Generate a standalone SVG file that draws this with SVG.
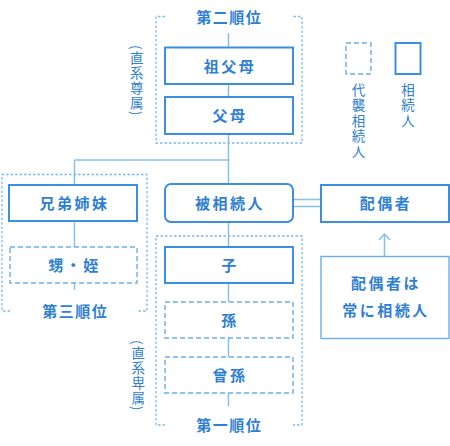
<svg xmlns="http://www.w3.org/2000/svg" width="450" height="446" viewBox="0 0 450 446">
<style>
text{font-family:"Noto Sans CJK JP","Noto Sans",sans-serif;fill:#2f80d2;}
.t{font-size:15px;font-weight:700;text-anchor:middle;letter-spacing:2.5px;}
.title{font-size:15px;font-weight:700;text-anchor:middle;letter-spacing:1.5px;}
.v{font-size:13.5px;font-weight:400;writing-mode:vertical-rl;letter-spacing:1.5px;}
.box{fill:#fff;stroke:#3a8fdf;stroke-width:2;}
.dbox{fill:#fff;stroke:#6aaeea;stroke-width:1.4;stroke-dasharray:5 3;}
.grp{fill:none;stroke:#7cb9ee;stroke-width:1.3;stroke-dasharray:2.5 2;}
.ln{fill:none;stroke:#86c0ef;stroke-width:1.5;}
</style>
<g id="groups">
<path class="grp" d="M165,16.5 H156 V143 H302 V16.5 H292"/>
<path class="grp" d="M10,311 H2 V174.5 H147 V311 H138"/>
<path class="grp" d="M165,425 H156 V236 H302 V425 H293"/>
<text class="title" x="229.2" y="22.5">第二順位</text>
<text class="title" x="75.2" y="316.5">第三順位</text>
<text class="title" x="229.2" y="430.5">第一順位</text>
<text class="v" x="136.7" y="45">(直系尊属)</text>
<text class="v" x="138.3" y="340">(直系卑属)</text>
</g>
<g id="connectors">
<path class="ln" d="M228.5,33 V47 M228.5,84 V97 M228.5,134 V184 M74.5,160 H228.5 M74.5,160 V185 M74.5,221 V247 M74.5,283 V290 M228.5,222 V247 M228.5,283 V302 M228.5,338 V357 M228.5,393 V406"/>
<path class="ln" d="M293,199.5 H321 M293,206.5 H321"/>
<path class="ln" d="M384.5,256 V234 M379,240 L384.5,234 L390,240"/>
</g>
<g id="n-sofubo"><rect class="box" x="165" y="47.5" width="128" height="36.5"/><text class="t" x="230" y="71.5">祖父母</text></g>
<g id="n-fubo"><rect class="box" x="165" y="97" width="128" height="37"/><text class="t" x="230" y="121">父母</text></g>
<g id="n-kyodai"><rect class="box" x="9" y="185" width="128" height="36"/><text class="t" x="74.5" y="208.5">兄弟姉妹</text></g>
<g id="n-oimei"><rect class="dbox" x="10" y="247" width="127" height="36"/><text class="t" x="74.5" y="270.5">甥・姪</text></g>
<g id="n-hi"><rect class="box" x="165" y="184" width="128" height="38" rx="6"/><text class="t" x="230" y="208.5">被相続人</text></g>
<g id="n-haigu"><rect class="box" x="321" y="185" width="128" height="37"/><text class="t" x="386" y="208.5">配偶者</text></g>
<g id="n-note"><rect x="321" y="256.5" width="128" height="82" fill="#fff" stroke="#6aaeea" stroke-width="1.4"/><text class="t" x="386" y="288.5">配偶者は</text><text class="t" x="386" y="315.5">常に相続人</text></g>
<g id="n-ko"><rect class="box" x="165" y="247" width="128" height="36"/><text class="t" x="230" y="270.5">子</text></g>
<g id="n-mago"><rect class="dbox" x="165" y="302" width="128" height="36"/><text class="t" x="230" y="325.5">孫</text></g>
<g id="n-himago"><rect class="dbox" x="165" y="357" width="128" height="36"/><text class="t" x="230" y="380.5">曾孫</text></g>
<g id="legend">
<rect x="346" y="43" width="25" height="31" fill="#fff" stroke="#6aaeea" stroke-width="1.4" stroke-dasharray="5 3"/>
<rect x="395.5" y="43" width="25" height="31" fill="#fff" stroke="#3a8fdf" stroke-width="2"/>
<text class="v" x="358.5" y="83" style="letter-spacing:2px">代襲相続人</text>
<text class="v" x="408" y="83" style="letter-spacing:2px">相続人</text>
</g>
</svg>
